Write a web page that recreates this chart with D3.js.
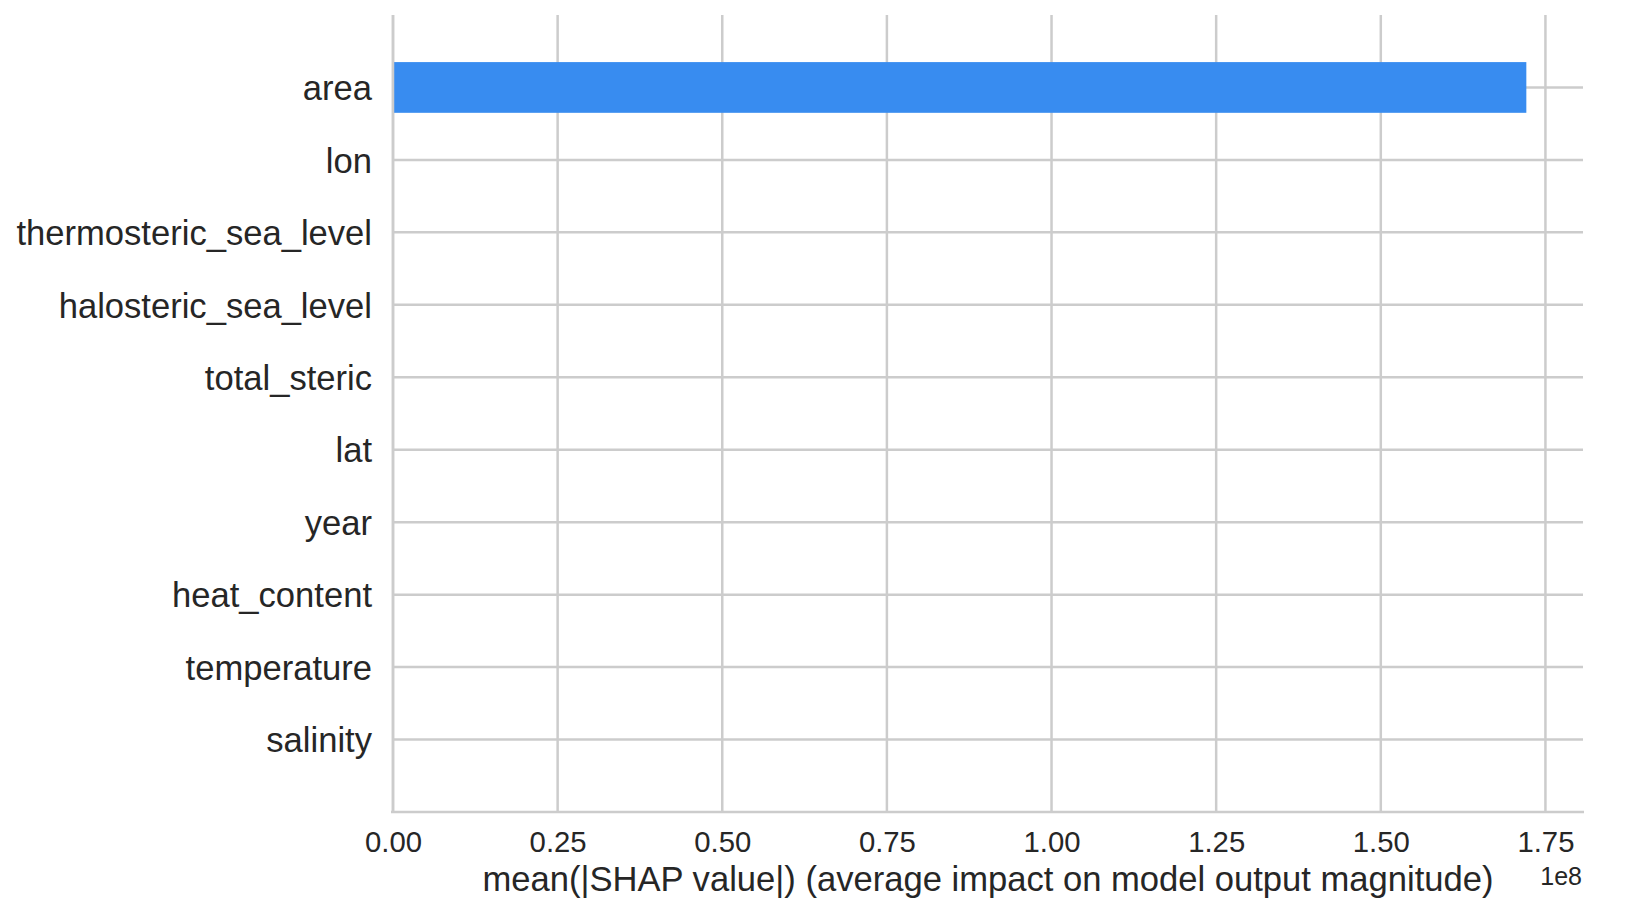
<!DOCTYPE html>
<html>
<head>
<meta charset="utf-8">
<script src="https://cdn.jsdelivr.net/npm/d3@7"></script>
<style>
  html, body { margin: 0; padding: 0; background: #ffffff; }
  svg { display: block; }
  text { font-family: "Liberation Sans", Arial, sans-serif; fill: #262626; }
</style>
</head>
<body>
<svg id="chart" width="1652" height="916"></svg>
<script>
// ---- data ----
const features = ["area", "lon", "thermosteric_sea_level", "halosteric_sea_level",
  "total_steric", "lat", "year", "heat_content", "temperature", "salinity"];
const meanAbsShap = [1.721e8, 0, 0, 0, 0, 0, 0, 0, 0, 0];
const xTickValues = [0, 0.25e8, 0.5e8, 0.75e8, 1.0e8, 1.25e8, 1.5e8, 1.75e8];
const xTickLabels = ["0.00", "0.25", "0.50", "0.75", "1.00", "1.25", "1.50", "1.75"];
const xLabel = "mean(|SHAP value|) (average impact on model output magnitude)";
const offsetLabel = "1e8";

// ---- layout ----
const plotLeft = 393, plotRight = 1583, plotTop = 15, plotBottom = 812;
const gridColor = "#cccccc";
const barColor = "#388cf0";

const svg = d3.select("#chart");

const xMax = d3.max(meanAbsShap) * 1.05;
const x = d3.scaleLinear().domain([0, xMax]).range([plotLeft, plotRight]);
const y = d3.scaleLinear().domain([-1, features.length]).range([plotTop, plotBottom]);
const rowH = y(1) - y(0);

// vertical grid lines
svg.append("g").selectAll("line").data(xTickValues).join("line")
  .attr("x1", d => x(d)).attr("x2", d => x(d))
  .attr("y1", plotTop).attr("y2", plotBottom)
  .attr("stroke", gridColor).attr("stroke-width", 2.5);

// horizontal grid lines
svg.append("g").selectAll("line").data(features).join("line")
  .attr("x1", plotLeft).attr("x2", plotRight)
  .attr("y1", (d, i) => y(i)).attr("y2", (d, i) => y(i))
  .attr("stroke", gridColor).attr("stroke-width", 2.5);

// bars
svg.append("g").selectAll("rect").data(meanAbsShap).join("rect")
  .attr("x", x(0))
  .attr("y", (d, i) => y(i) - rowH * 0.35)
  .attr("width", d => x(d) - x(0))
  .attr("height", rowH * 0.7)
  .attr("fill", barColor);

// spines
svg.append("line").attr("x1", plotLeft).attr("x2", plotLeft).attr("y1", plotTop).attr("y2", plotBottom)
  .attr("stroke", gridColor).attr("stroke-width", 2.5);
svg.append("line").attr("x1", plotLeft - 2).attr("x2", plotRight + 1).attr("y1", plotBottom).attr("y2", plotBottom)
  .attr("stroke", gridColor).attr("stroke-width", 2.5);

// x axis tick labels via d3 axis
const xAxis = d3.axisBottom(x)
  .tickValues(xTickValues)
  .tickSize(0)
  .tickPadding(0)
  .tickFormat((d, i) => xTickLabels[i]);
const gx = svg.append("g").attr("transform", `translate(0,${plotBottom})`).call(xAxis);
gx.select(".domain").remove();
gx.selectAll("text")
  .attr("y", 40).attr("dy", null)
  .style("font-family", '"Liberation Sans", Arial, sans-serif')
  .style("font-size", "29.3px")
  .style("fill", "#262626");

// y axis feature labels
svg.append("g").selectAll("text").data(features).join("text")
  .attr("x", plotLeft - 21)
  .attr("y", (d, i) => y(i) + 12.7)
  .attr("text-anchor", "end")
  .style("font-size", "34.6px")
  .text(d => d);

// x label
svg.append("text")
  .attr("x", (plotLeft + plotRight) / 2)
  .attr("y", 891)
  .attr("text-anchor", "middle")
  .style("font-size", "34.6px")
  .text(xLabel);

// offset text
svg.append("text")
  .attr("x", plotRight - 1)
  .attr("y", 885)
  .attr("text-anchor", "end")
  .style("font-size", "25px")
  .text(offsetLabel);
</script>
</body>
</html>
